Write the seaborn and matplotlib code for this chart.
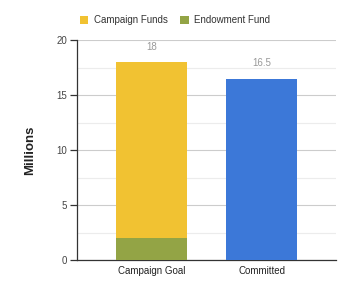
import matplotlib
matplotlib.use("Agg")
import matplotlib.pyplot as plt
import seaborn as sns
import pandas as pd
from matplotlib.patches import Patch
from matplotlib.ticker import MultipleLocator

categories = ["Campaign Goal", "Committed"]
campaign_funds = [16, 0]
endowment_fund = [2, 0]
committed = [0, 16.5]
totals = [18, 16.5]
legend_labels = ["Campaign Funds", "Endowment Fund"]

YELLOW = "#F1C232"
GREEN = "#93A445"
BLUE = "#3C78D8"

sns.set_theme(style="white")
plt.rcParams["font.family"] = ["Liberation Sans", "DejaVu Sans"]

fig = plt.figure(figsize=(3.5, 2.9), dpi=100)
ax = fig.add_axes([0.22, 0.1034, 0.74, 0.7586])

df_top = pd.DataFrame({"cat": categories, "val": totals})
sns.barplot(data=df_top, x="cat", y="val", hue="cat", order=categories,
            palette=[YELLOW, BLUE], width=0.645, legend=False, ax=ax,
            saturation=1, zorder=3, linewidth=0)
df_end = pd.DataFrame({"cat": categories, "val": endowment_fund})
sns.barplot(data=df_end, x="cat", y="val", order=categories, color=GREEN,
            width=0.645, ax=ax, saturation=1, zorder=4, linewidth=0)

for i, t in enumerate(totals):
    ax.annotate(f"{t:g}", (i, t), xytext=(0, 11), textcoords="offset points",
                ha="center", va="center", fontsize=7, color="#999999")

ax.set_xlim(-0.677, 1.677)
ax.set_ylim(0, 20)
ax.yaxis.set_major_locator(MultipleLocator(5))
ax.yaxis.set_minor_locator(MultipleLocator(2.5))
ax.grid(axis="y", which="major", color="#cccccc", linewidth=0.8, zorder=0)
ax.grid(axis="y", which="minor", color="#ececec", linewidth=0.8, zorder=0)
ax.set_axisbelow(True)

for s in ["top", "right"]:
    ax.spines[s].set_visible(False)
ax.spines["left"].set_color("#333333")
ax.spines["bottom"].set_color("#333333")
ax.spines["left"].set_linewidth(0.9)
ax.spines["bottom"].set_linewidth(0.9)

ax.tick_params(axis="y", which="major", left=True, length=5, width=0.9,
               color="#333333", labelsize=7, labelcolor="#444444", pad=2)
ax.tick_params(axis="y", which="minor", left=False)
ax.tick_params(axis="x", bottom=False, length=0, labelsize=7, labelcolor="#222222", pad=4)

ax.set_xlabel("")
ax.set_ylabel("Millions", fontsize=9.5, fontweight="bold", color="#222222", labelpad=15)

handles = [Patch(facecolor=YELLOW, edgecolor="none"), Patch(facecolor=GREEN, edgecolor="none")]
fig.legend(handles, legend_labels, loc="center", bbox_to_anchor=(0.5, 0.93), ncol=2,
           frameon=False, fontsize=7, handlelength=0.9, handleheight=0.9,
           handletextpad=0.6, columnspacing=1.2, labelcolor="#333333")

fig.savefig("out.png", dpi=100)
